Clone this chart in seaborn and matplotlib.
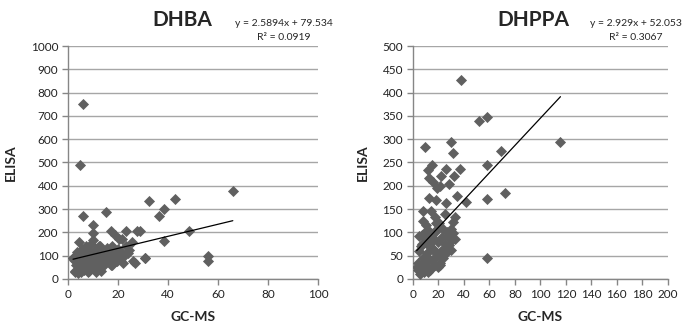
#!/usr/bin/env python3

# ========================================================================
#
# Imports
#
# ========================================================================
import numpy as np
import pandas as pd
import matplotlib as mpl
mpl.use('Agg')
import matplotlib.pyplot as plt
import seaborn as sns


# ========================================================================
#
# Data
#
# ========================================================================
dhba_gcms = [6.0, 4.8, 5.9, 15.3, 32.5, 42.8, 36.5, 38.4, 38.4, 48.5,
             65.9, 55.9, 55.9, 30.8, 28.8, 23.2, 27.7, 9.9, 9.9, 10.1,
             4.2, 17.3, 18.8, 20.5, 25.5, 21.7, 24.4, 26.0, 30.6, 26.7,
             2.0, 2.6, 5.3, 8.5, 13.0, 17.7, 19.7, 12.9,
             2.0, 2.5, 3.0, 3.5, 2.8, 4.0, 4.5, 5.0, 5.5, 5.5,
             6.0, 6.5, 7.0, 7.5, 8.0, 8.0, 8.5, 9.0, 9.5, 10.0,
             10.5, 11.0, 11.5, 12.0, 12.0, 12.5, 13.0, 13.5, 14.0, 14.5,
             15.0, 15.5, 16.0, 16.5, 17.0, 17.5, 18.0, 18.5, 19.0, 19.5,
             20.0, 20.5, 21.0, 22.0, 22.5, 23.0, 24.0, 11.0, 9.0, 7.0,
             13.0, 16.0, 3.5, 6.0]
dhba_elisa = [750, 491, 271, 289, 333, 343, 270, 300, 161, 207,
              376, 97, 78, 89, 207, 207, 207, 233, 197, 168,
              160, 204, 190, 171, 157, 171, 125, 75, 90, 67,
              91, 36, 32, 36, 61, 61, 75, 140,
              92, 80, 60, 40, 30, 25, 50, 70, 100, 130,
              85, 40, 110, 60, 90, 30, 120, 75, 45, 100,
              60, 130, 85, 110, 50, 140, 95, 70, 120, 60,
              100, 135, 80, 110, 60, 140, 95, 120, 75, 105,
              130, 85, 115, 70, 100, 140, 110, 30, 150, 140,
              35, 125, 115, 55]

dhppa_gcms = [38.0, 51.5, 58.0, 9.2, 30.0, 31.4, 69.3, 58.0, 72.0, 58.0,
              58.0, 115.8,
              14.9, 11.8, 26.1, 36.6, 22.0, 32.4, 12.6, 15.7, 21.0, 28.3,
              19.0, 12.6, 17.8, 26.1, 35.0, 41.9, 7.8, 14.4, 17.0, 25.0,
              33.0, 31.4, 9.9, 18.3, 6.8, 5.0, 12.6, 29.7, 31.0, 28.3,
              3.8, 7.8, 31.4, 32.7, 30.0,
              4.0, 5.0, 6.0, 7.0, 8.0, 9.0, 10.0, 11.0, 12.0, 13.0,
              14.0, 15.0, 16.0, 17.0, 18.0, 19.0, 20.0, 21.0, 22.0, 23.0,
              24.0, 25.0, 26.0, 27.0, 5.5, 8.5, 10.5, 13.5, 16.5, 19.5,
              22.5, 6.5, 9.5, 12.5, 15.5, 18.5, 21.5, 11.5, 14.5, 20.5,
              24.5, 27.5, 3.0, 8.0, 17.5]
dhppa_elisa = [427, 340, 348, 284, 295, 271, 275, 245, 185, 171,
               44, 295,
               245, 234, 235, 237, 220, 222, 216, 209, 200, 203,
               196, 174, 170, 162, 178, 165, 145, 145, 134, 139,
               134, 122, 115, 120, 94, 92, 103, 107, 84, 72,
               35, 22, 98, 86, 62,
               20, 60, 30, 75, 45, 15, 85, 55, 25, 70,
               95, 40, 65, 30, 105, 50, 80, 35, 60, 90,
               45, 75, 55, 100, 10, 35, 50, 20, 85, 25,
               110, 70, 100, 40, 65, 55, 30, 15, 80, 120,
               65, 90, 25, 125, 100]

# trendline coefficients as printed on the chart
dhba_fit = (2.5894, 79.534)
dhppa_fit = (2.929, 52.053)


# ========================================================================
#
# Some defaults variables
#
# ========================================================================
sns.set_style('white')
plt.rcParams['font.family'] = ['Lato', 'DejaVu Sans']
marker_color = '#606060'
grid_color = '#a6a6a6'
spine_color = '#868686'


# ========================================================================
#
# Function definitions
#
# ========================================================================
def panel(ax, x, y, fit, title, xmax, ymax, ystep, eq, r2):

    df = pd.DataFrame({'GC-MS': x, 'ELISA': y})
    sns.scatterplot(data=df, x='GC-MS', y='ELISA', ax=ax, marker='D',
                    s=32, color=marker_color, edgecolor=marker_color,
                    linewidth=0, zorder=3)
    xs = np.array([df['GC-MS'].min(), df['GC-MS'].max()])
    ax.plot(xs, fit[0] * xs + fit[1], color='black', lw=0.9, zorder=4)

    ax.set_xlim(0, xmax)
    ax.set_ylim(0, ymax)
    ax.set_xticks(np.arange(0, xmax + 1, 20))
    ax.set_yticks(np.arange(0, ymax + 1, ystep))
    ax.yaxis.grid(True, color=grid_color, lw=1)
    ax.set_axisbelow(True)
    for s in ['top', 'right']:
        ax.spines[s].set_visible(False)
    for s in ['left', 'bottom']:
        ax.spines[s].set_color(spine_color)
        ax.spines[s].set_linewidth(1)
    ax.tick_params(axis='both', which='both', direction='out', length=4,
                   width=1, color=spine_color, labelsize=8.5,
                   labelcolor='#222222', left=True, bottom=True, pad=3)
    ax.set_xlabel('GC-MS', fontsize=10, fontweight='bold', labelpad=8)
    ax.set_ylabel('ELISA', fontsize=10, fontweight='bold', labelpad=10)
    return ax


# ========================================================================
#
# Main
#
# ========================================================================
if __name__ == '__main__':

    fig = plt.figure(figsize=(6.87, 3.24), dpi=100)
    ax1 = fig.add_axes([0.099, 0.139, 0.364, 0.719])
    ax2 = fig.add_axes([0.601, 0.139, 0.371, 0.719])

    panel(ax1, dhba_gcms, dhba_elisa, dhba_fit, 'DHBA', 100, 1000, 100,
          None, None)
    panel(ax2, dhppa_gcms, dhppa_elisa, dhppa_fit, 'DHPPA', 200, 500, 50,
          None, None)

    # titles and trendline equations
    fig.text(182 / 687, 1 - 20 / 324, 'DHBA', fontsize=15,
             fontweight='bold', ha='center', va='center')
    fig.text(533 / 687, 1 - 20 / 324, 'DHPPA', fontsize=15,
             fontweight='bold', ha='center', va='center')
    fig.text(284 / 687, 1 - 23 / 324,
             'y = %.4fx + %.3f' % dhba_fit, fontsize=7.5,
             ha='center', va='center')
    fig.text(284 / 687, 1 - 37 / 324, 'R² = 0.0919', fontsize=7.5,
             ha='center', va='center')
    fig.text(636 / 687, 1 - 23 / 324,
             'y = %.3fx + %.3f' % dhppa_fit, fontsize=7.5,
             ha='center', va='center')
    fig.text(636 / 687, 1 - 37 / 324, 'R² = 0.3067', fontsize=7.5,
             ha='center', va='center')

    plt.savefig('out.png', format='png', dpi=100)
